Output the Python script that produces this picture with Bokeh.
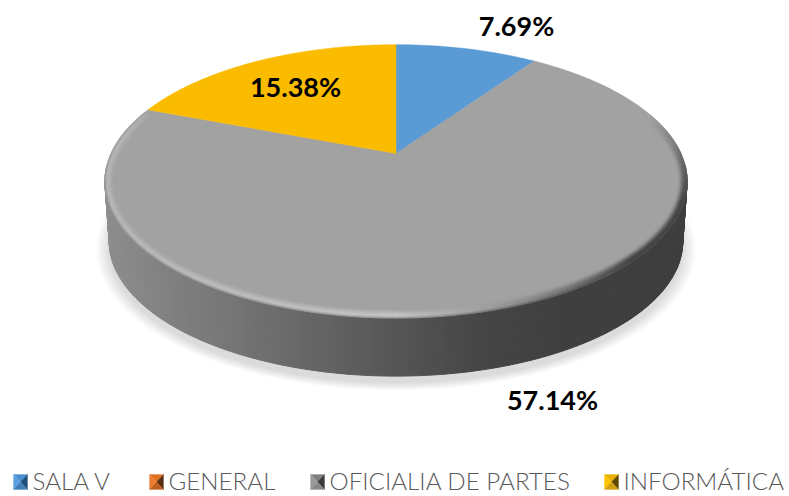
import numpy as np
from bokeh.plotting import figure
from bokeh.models import Range1d
from bokeh.embed import file_html
from bokeh.resources import INLINE
from bokeh.core.properties import value

categories = ["SALA V", "GENERAL", "OFICIALIA DE PARTES", "INFORMÁTICA"]
values = [7.69, 0.0, 57.14, 15.38]
colors = ["#5b9bd5", "#ed7d31", "#a2a2a2", "#fbbc00"]
bevel = [("#4a90d0", "#5ba0e0", "#1f4e79", "#3f7fb5"),
         ("#e07020", "#ed7d31", "#5a2f10", "#c06020"),
         ("#7f7f7f", "#9a9a9a", "#3a3a3a", "#888888"),
         ("#e8b000", "#ffc000", "#5f4800", "#d0a010")]
label_xy = {0: (516, 24.5), 2: (552, 398.5), 3: (295, 85.5)}
legend_marker_x = [13, 149, 310, 604]
legend_text_x = [32, 168, 329, 623]

CX, CY, A, B, K = 395.5, 153.0, 285.0, 131.0, 0.204
DEPTH, SCALE = 60.5, 0.985

def project(theta_deg, r=1.0, dy=0.0, s=1.0):
    t = np.radians(theta_deg)
    u, v = r * np.sin(t), r * np.cos(t)
    d = 1 + K * v
    return CX + s * A * u / d, CY - s * B * v / d + dy

p = figure(width=789, height=496, output_backend="svg", toolbar_location=None,
           x_range=Range1d(0, 789), y_range=Range1d(496, 0), min_border=0)
p.axis.visible = False
p.grid.visible = False
p.outline_line_color = None
p.background_fill_color = "white"
p.border_fill_color = "white"

# soft shadow
circle = np.linspace(0, 360, 241)
for e in np.linspace(1.045, 1.0, 9):
    x, y = project(circle, dy=DEPTH + 7, s=SCALE * e)
    p.patch(x, y, fill_color="#000000", fill_alpha=0.015, line_color=None)

# side wall
wall_x = [105, 170, 230, 310, 400, 480, 560, 690]
wall_c = [0x8e, 0x80, 0x76, 0x66, 0x55, 0x46, 0x40, 0x3e]
th = np.linspace(95, 265, 171)
xs, ys, cs = [], [], []
for a, b in zip(th[:-1], th[1:]):
    xa, ya = project(a)
    xb, yb = project(b)
    xc, yc = project(b, dy=DEPTH, s=SCALE)
    xd, yd = project(a, dy=DEPTH, s=SCALE)
    g = int(np.interp((xa + xb) / 2, wall_x, wall_c))
    xs.append([xa, xb, xc, xd]); ys.append([ya, yb, yc, yd])
    cs.append(f"#{g:02x}{g:02x}{g:02x}")
p.patches(xs, ys, fill_color=cs, line_color=cs, line_width=1)

# top surface
total = sum(values)
start = 0.0
spans = []
for v, c in zip(values, colors):
    sweep = 360.0 * v / total
    if v > 0:
        t = np.linspace(start, start + sweep, max(int(sweep) * 2, 2) + 1)
        x, y = project(t)
        x0, y0 = project(0.0, 0.0)
        p.patch(np.r_[x0, x], np.r_[y0, y], fill_color=c, line_color=c, line_width=0.5)
    spans.append((start, start + sweep))
    start += sweep

# bevelled rim of the large slice: bands of constant screen width, inset along the normal
th = np.linspace(72, spans[2][1] - 1, 240)
ox, oy = project(th)
tx, ty = np.gradient(ox), np.gradient(oy)
ln = np.hypot(tx, ty)
nx, ny = -ty / ln, tx / ln            # points inward for this clockwise run on a y-down screen
if (CX - ox[len(ox) // 2]) * nx[len(ox) // 2] + (CY + 25 - oy[len(ox) // 2]) * ny[len(ox) // 2] < 0:
    nx, ny = -nx, -ny
rim_t = [72, 92, 110, 135, 160, 180, 210, 250, 280, spans[2][1]]
rim_c = [0xa2, 0x70, 0x45, 0x42, 0x90, 0xc6, 0xbe, 0xb8, 0xb6, 0xa8]
outer_t = [72, 92, 110, 135, 160, 180, 210, 250, 280, spans[2][1]]
outer_c = [0xa2, 0x60, 0x40, 0x42, 0x60, 0x90, 0x90, 0x90, 0x98, 0xa4]
insets = np.linspace(0, 10, 11)
mid = 0.5 * (th[:-1] + th[1:])
peak = np.interp(mid, rim_t, rim_c)
edge = np.interp(mid, outer_t, outer_c)
xs, ys, cs = [], [], []
for d1, d2 in zip(insets[:-1], insets[1:]):
    dm = 0.5 * (d1 + d2)
    for j in range(len(th) - 1):
        if dm < 2.5:
            g = edge[j] + (peak[j] - edge[j]) * dm / 2.5
        else:
            q = (10 - dm) / 7.5
            g = 0xa2 + (peak[j] - 0xa2) * q * q * (3 - 2 * q)
        g = int(g)
        xs.append([ox[j] + nx[j] * d1, ox[j + 1] + nx[j + 1] * d1, ox[j + 1] + nx[j + 1] * d2, ox[j] + nx[j] * d2])
        ys.append([oy[j] + ny[j] * d1, oy[j + 1] + ny[j + 1] * d1, oy[j + 1] + ny[j + 1] * d2, oy[j] + ny[j] * d2])
        cs.append(f"#{g:02x}{g:02x}{g:02x}")
p.patches(xs, ys, fill_color=cs, line_color=cs, line_width=0.6)

# data labels
for i, v in enumerate(values):
    if v > 0:
        lx, ly = label_xy[i]
        p.text([lx], [ly], text=[f"{v:.2f}%"], text_align="center", text_baseline="middle",
               text_font=value("Lato"), text_font_style="bold", text_font_size="27px",
               text_color="#000000")

# legend
for name, mx, tx_, bv in zip(categories, legend_marker_x, legend_text_x, bevel):
    x0, x1, y0, y1, xm, ym = mx, mx + 14, 474, 489, mx + 7, 481.5
    for tri_x, tri_y, col in [([x0, x1, xm], [y0, y0, ym], bv[0]),
                              ([x0, x0, xm], [y0, y1, ym], bv[1]),
                              ([x1, x1, xm], [y0, y1, ym], bv[2]),
                              ([x0, x1, xm], [y1, y1, ym], bv[3])]:
        p.patch(tri_x, tri_y, fill_color=col, line_color=col, line_width=0.3)
    p.text([tx_], [480], text=[name], text_align="left", text_baseline="middle",
           text_font=value("Lato Light, Lato"), text_font_size="24.2px", text_color="#595959")

open("out.html", "w").write(file_html(p, INLINE))
